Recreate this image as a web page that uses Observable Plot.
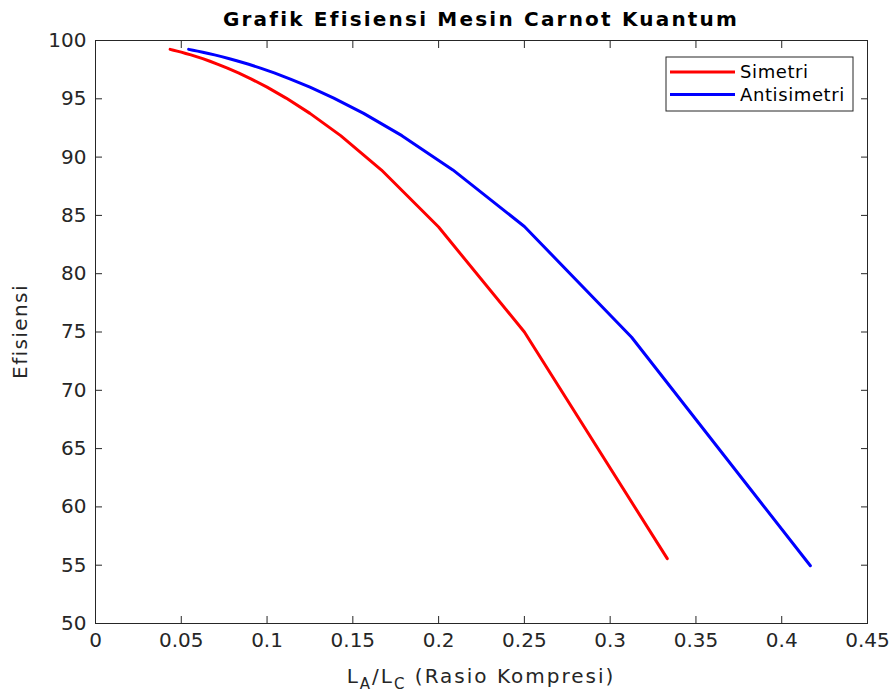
<!DOCTYPE html>
<html>
<head>
<meta charset="utf-8">
<script src="https://cdn.jsdelivr.net/npm/d3@7"></script>
<script src="https://cdn.jsdelivr.net/npm/@observablehq/plot@0.6"></script>
<style>
  html, body { margin: 0; padding: 0; background: #fff; }
  #chart svg { display: block; }
</style>
</head>
<body>
<div id="chart"></div>
<script>
// ---- data ----
const titleText = "Grafik Efisiensi Mesin Carnot Kuantum";
const yLabelText = "Efisiensi";
const seriesNames = ["Simetri", "Antisimetri"];
const seriesColors = ["#ff0000", "#0000ff"];

const ratioSimetri = [0.0435, 0.0455, 0.0476, 0.05, 0.0526, 0.0556, 0.0588, 0.0625, 0.0667, 0.0714,
  0.0769, 0.0833, 0.0909, 0.1, 0.1111, 0.125, 0.1429, 0.1667, 0.2, 0.25, 0.3333];
const efisiensiSimetri = [99.24, 99.17, 99.09, 99.0, 98.89, 98.77, 98.62, 98.44, 98.22, 97.96,
  97.63, 97.22, 96.69, 96.0, 95.06, 93.75, 91.84, 88.89, 84.0, 75.0, 55.56];

const ratioAntisimetri = [0.0543, 0.0568, 0.0595, 0.0625, 0.0658, 0.0694, 0.0735, 0.0781, 0.0833, 0.0893,
  0.0962, 0.1042, 0.1136, 0.125, 0.1389, 0.1563, 0.1786, 0.2083, 0.25, 0.3125, 0.4167];
const efisiensiAntisimetri = [99.24, 99.17, 99.09, 99.0, 98.89, 98.77, 98.62, 98.44, 98.22, 97.96,
  97.63, 97.22, 96.69, 96.0, 95.06, 93.75, 91.84, 88.9, 84.05, 74.55, 54.95];

const xTicks = [0, 0.05, 0.1, 0.15, 0.2, 0.25, 0.3, 0.35, 0.4, 0.45];
const yTicks = [50, 55, 60, 65, 70, 75, 80, 85, 90, 95, 100];

// ---- build table ----
const rows = [
  ...ratioSimetri.map((x, i) => ({x, y: efisiensiSimetri[i], s: seriesNames[0]})),
  ...ratioAntisimetri.map((x, i) => ({x, y: efisiensiAntisimetri[i], s: seriesNames[1]}))
];

const W = 895, H = 695;
const mL = 95, mR = 28, mT = 40, mB = 72;
const ink = "#262626";
const fmt = d => String(d);

const chart = Plot.plot({
  width: W, height: H,
  marginLeft: mL, marginRight: mR, marginTop: mT, marginBottom: mB,
  style: {fontFamily: "DejaVu Sans", fontSize: "20px", color: ink, background: "#fff", overflow: "visible"},
  x: {domain: [0, 0.45], label: null},
  y: {domain: [50, 100], label: null},
  color: {domain: seriesNames, range: seriesColors},
  marks: [
    Plot.frame({stroke: ink, strokeWidth: 1}),
    // tick labels
    Plot.axisX({ticks: xTicks, tickFormat: fmt, tickSize: 0, tickPadding: 9, label: null, fill: ink, stroke: "none"}),
    Plot.axisY({ticks: yTicks, tickFormat: fmt, tickSize: 0, tickPadding: 9, label: null, fill: ink, stroke: "none"}),
    // inward ticks on all four sides
    Plot.axisX({anchor: "bottom", ticks: xTicks, tickSize: 7, dy: -7, fill: "none", stroke: ink, label: null}),
    Plot.axisX({anchor: "top", ticks: xTicks, tickSize: 7, dy: 7, fill: "none", stroke: ink, label: null}),
    Plot.axisY({anchor: "left", ticks: yTicks, tickSize: 7, dx: 7, fill: "none", stroke: ink, label: null}),
    Plot.axisY({anchor: "right", ticks: yTicks, tickSize: 7, dx: -7, fill: "none", stroke: ink, label: null}),
    Plot.line(rows, {x: "x", y: "y", z: "s", stroke: "s", strokeWidth: 3, strokeLinejoin: "round"})
  ]
});

document.getElementById("chart").appendChild(chart);

// ---- title, axis labels, legend ----
const svg = d3.select(chart);
const cx = (mL + (W - mR)) / 2;

svg.append("text")
  .attr("x", cx).attr("y", 26)
  .attr("text-anchor", "middle")
  .attr("font-family", "DejaVu Sans").attr("font-weight", "bold")
  .attr("font-size", 20).attr("letter-spacing", 2.2)
  .attr("fill", "#000")
  .text(titleText);

const xl = svg.append("text")
  .attr("x", cx).attr("y", 683)
  .attr("text-anchor", "middle")
  .attr("font-family", "DejaVu Sans").attr("font-size", 20)
  .attr("letter-spacing", 2)
  .attr("fill", ink);
xl.append("tspan").text("L");
xl.append("tspan").attr("dy", 6).attr("font-size", 15).text("A");
xl.append("tspan").attr("dy", -6).text("/L");
xl.append("tspan").attr("dy", 6).attr("font-size", 15).text("C");
xl.append("tspan").attr("dy", -6).text(" (Rasio Kompresi)");

svg.append("text")
  .attr("transform", `translate(27,${(mT + (H - mB)) / 2}) rotate(-90)`)
  .attr("text-anchor", "middle")
  .attr("font-family", "DejaVu Sans").attr("font-size", 20)
  .attr("letter-spacing", 1.4)
  .attr("fill", ink)
  .text(yLabelText);

// legend box
const lg = svg.append("g").attr("transform", "translate(666,57)");
lg.append("rect").attr("width", 187).attr("height", 54)
  .attr("fill", "#fff").attr("stroke", ink).attr("stroke-width", 1);
seriesNames.forEach((name, i) => {
  const yy = 15 + i * 22.5;
  lg.append("line").attr("x1", 4).attr("x2", 69).attr("y1", yy).attr("y2", yy)
    .attr("stroke", seriesColors[i]).attr("stroke-width", 3);
  lg.append("text").attr("x", 74).attr("y", yy).attr("dy", "0.35em")
    .attr("text-anchor", "start")
    .attr("font-family", "DejaVu Sans").attr("font-size", 18)
    .attr("letter-spacing", 0.6)
    .attr("fill", "#000").text(name);
});
</script>
</body>
</html>
